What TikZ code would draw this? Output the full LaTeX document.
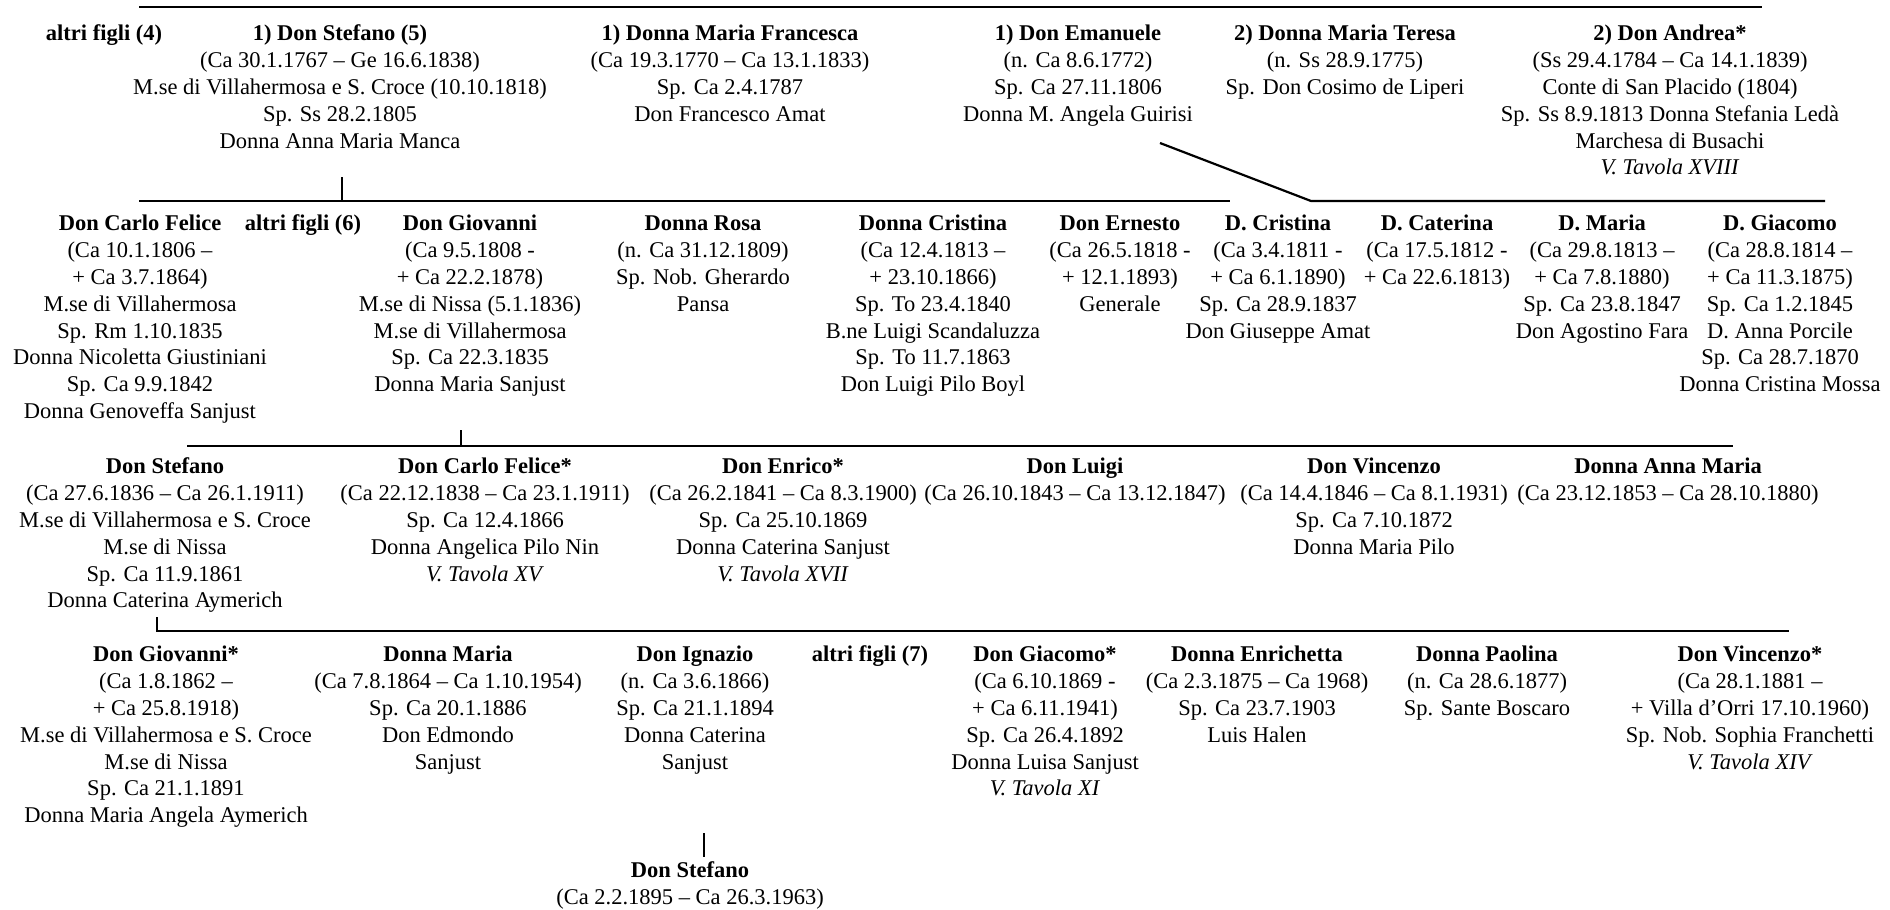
\documentclass[tikz,border=0pt]{standalone}
\usepackage{fontspec}
\setmainfont{Liberation Serif}
\usepackage{tikz}
\newcommand{\nome}[1]{\strut\textbf{#1}}
\tikzstyle{person} = [anchor=north, align=center, inner sep=0pt, font=\fontsize{22.5}{26.8}\selectfont]
\tikzstyle{bar} = [line width=2.2pt]

\begin{document}
\begin{tikzpicture}[x=1pt,y=-1pt]
                            \useasboundingbox (0,0) rectangle (1890,910);
                            \node [person] (altri4) at (104,22) {\nome{altri figli (4)}};
                            \node [person] (stefano5) at (340,22) {\nome{1) Don Stefano (5)}\\(Ca 30.1.1767 – Ge 16.6.1838)\\M.se di Villahermosa e S. Croce (10.10.1818)\\Sp. Ss 28.2.1805\\Donna Anna Maria Manca};
                            \node [person] (francesca) at (730,22) {\nome{1) Donna Maria Francesca}\\(Ca 19.3.1770 – Ca 13.1.1833)\\Sp. Ca 2.4.1787\\Don Francesco Amat};
                            \node [person] (emanuele) at (1078,22) {\nome{1) Don Emanuele}\\(n. Ca 8.6.1772)\\Sp. Ca 27.11.1806\\Donna M. Angela Guirisi};
                            \node [person] (teresa) at (1345,22) {\nome{2) Donna Maria Teresa}\\(n. Ss 28.9.1775)\\Sp. Don Cosimo de Liperi};
                            \node [person] (andrea) at (1670,22) {\nome{2) Don Andrea*}\\(Ss 29.4.1784 – Ca 14.1.1839)\\Conte di San Placido (1804)\\Sp. Ss 8.9.1813 Donna Stefania Ledà\\Marchesa di Busachi\\\textit{V. Tavola XVIII}};
                            \node [person] (carlo) at (140,212) {\nome{Don Carlo Felice}\\(Ca 10.1.1806 –\\+ Ca 3.7.1864)\\M.se di Villahermosa\\Sp. Rm 1.10.1835\\Donna Nicoletta Giustiniani\\Sp. Ca 9.9.1842\\Donna Genoveffa Sanjust};
                            \node [person] (altri6) at (303,212) {\nome{altri figli (6)}};
                            \node [person] (giovanni) at (470,212) {\nome{Don Giovanni}\\(Ca 9.5.1808 -\\+ Ca 22.2.1878)\\M.se di Nissa (5.1.1836)\\M.se di Villahermosa\\Sp. Ca 22.3.1835\\Donna Maria Sanjust};
                            \node [person] (rosa) at (703,212) {\nome{Donna Rosa}\\(n. Ca 31.12.1809)\\Sp. Nob. Gherardo\\Pansa};
                            \node [person] (cristina) at (933,212) {\nome{Donna Cristina}\\(Ca 12.4.1813 –\\+ 23.10.1866)\\Sp. To 23.4.1840\\B.ne Luigi Scandaluzza\\Sp. To 11.7.1863\\Don Luigi Pilo Boyl};
                            \node [person] (ernesto) at (1120,212) {\nome{Don Ernesto}\\(Ca 26.5.1818 -\\+ 12.1.1893)\\Generale};
                            \node [person] (dcristina) at (1278,212) {\nome{D. Cristina}\\(Ca 3.4.1811 -\\+ Ca 6.1.1890)\\Sp. Ca 28.9.1837\\Don Giuseppe Amat};
                            \node [person] (dcaterina) at (1437,212) {\nome{D. Caterina}\\(Ca 17.5.1812 -\\+ Ca 22.6.1813)};
                            \node [person] (dmaria) at (1602,212) {\nome{D. Maria}\\(Ca 29.8.1813 –\\+ Ca 7.8.1880)\\Sp. Ca 23.8.1847\\Don Agostino Fara};
                            \node [person] (dgiacomo) at (1780,212) {\nome{D. Giacomo}\\(Ca 28.8.1814 –\\+ Ca 11.3.1875)\\Sp. Ca 1.2.1845\\D. Anna Porcile\\Sp. Ca 28.7.1870\\Donna Cristina Mossa};
                            \node [person] (stefano2) at (165,455) {\nome{Don Stefano}\\(Ca 27.6.1836 – Ca 26.1.1911)\\M.se di Villahermosa e S. Croce\\M.se di Nissa\\Sp. Ca 11.9.1861\\Donna Caterina Aymerich};
                            \node [person] (carlo2) at (485,455) {\nome{Don Carlo Felice*}\\(Ca 22.12.1838 – Ca 23.1.1911)\\Sp. Ca 12.4.1866\\Donna Angelica Pilo Nin\\\textit{V. Tavola XV}};
                            \node [person] (enrico) at (783,455) {\nome{Don Enrico*}\\(Ca 26.2.1841 – Ca 8.3.1900)\\Sp. Ca 25.10.1869\\Donna Caterina Sanjust\\\textit{V. Tavola XVII}};
                            \node [person] (luigi) at (1075,455) {\nome{Don Luigi}\\(Ca 26.10.1843 – Ca 13.12.1847)};
                            \node [person] (vincenzo) at (1374,455) {\nome{Don Vincenzo}\\(Ca 14.4.1846 – Ca 8.1.1931)\\Sp. Ca 7.10.1872\\Donna Maria Pilo};
                            \node [person] (annamaria) at (1668,455) {\nome{Donna Anna Maria}\\(Ca 23.12.1853 – Ca 28.10.1880)};
                            \node [person] (giovanni2) at (166,643) {\nome{Don Giovanni*}\\(Ca 1.8.1862 –\\+ Ca 25.8.1918)\\M.se di Villahermosa e S. Croce\\M.se di Nissa\\Sp. Ca 21.1.1891\\Donna Maria Angela Aymerich};
                            \node [person] (maria2) at (448,643) {\nome{Donna Maria}\\(Ca 7.8.1864 – Ca 1.10.1954)\\Sp. Ca 20.1.1886\\Don Edmondo\\Sanjust};
                            \node [person] (ignazio) at (695,643) {\nome{Don Ignazio}\\(n. Ca 3.6.1866)\\Sp. Ca 21.1.1894\\Donna Caterina\\Sanjust};
                            \node [person] (altri7) at (870,643) {\nome{altri figli (7)}};
                            \node [person] (giacomo2) at (1045,643) {\nome{Don Giacomo*}\\(Ca 6.10.1869 -\\+ Ca 6.11.1941)\\Sp. Ca 26.4.1892\\Donna Luisa Sanjust\\\textit{V. Tavola XI}};
                            \node [person] (enrichetta) at (1257,643) {\nome{Donna Enrichetta}\\(Ca 2.3.1875 – Ca 1968)\\Sp. Ca 23.7.1903\\Luis Halen};
                            \node [person] (paolina) at (1487,643) {\nome{Donna Paolina}\\(n. Ca 28.6.1877)\\Sp. Sante Boscaro};
                            \node [person] (vincenzo2) at (1750,643) {\nome{Don Vincenzo*}\\(Ca 28.1.1881 –\\+ Villa d’Orri 17.10.1960)\\Sp. Nob. Sophia Franchetti\\\textit{V. Tavola XIV}};
                            \node [person] (stefano3) at (690,859) {\nome{Don Stefano}\\(Ca 2.2.1895 – Ca 26.3.1963)};
                            \coordinate (top-l) at (139,7);
                            \coordinate (top-r) at (1762,7);
                            \coordinate (t1) at (342,177);
                            \coordinate (bar1-l) at (139,201);
                            \coordinate (bar1-r) at (1230,201);
                            \coordinate (d1) at (1160,143);
                            \coordinate (bar2-l) at (1311,201);
                            \coordinate (bar2-r) at (1825,201);
                            \coordinate (t2) at (461,430);
                            \coordinate (bar3-l) at (187,446);
                            \coordinate (bar3-r) at (1733,446);
                            \coordinate (t3) at (157,617);
                            \coordinate (bar4-r) at (1789,631);
                            \coordinate (t4) at (704,833);
                            \coordinate (t4-b) at (704,857);
                            \draw [bar] (top-l) -- (top-r);
                            \draw [bar] (t1) -- (t1 |- bar1-l);
                            \draw [bar] (bar1-l) -- (bar1-r);
                            \draw [bar] (d1) -- (bar2-l) -- (bar2-r);
                            \draw [bar] (t2) -- (t2 |- bar3-l);
                            \draw [bar] (bar3-l) -- (bar3-r);
                            \draw [bar] (t3) -- (t3 |- bar4-r) -- (bar4-r);
                            \draw [bar] (t4) -- (t4-b);
                        \end{tikzpicture}
\end{document}
